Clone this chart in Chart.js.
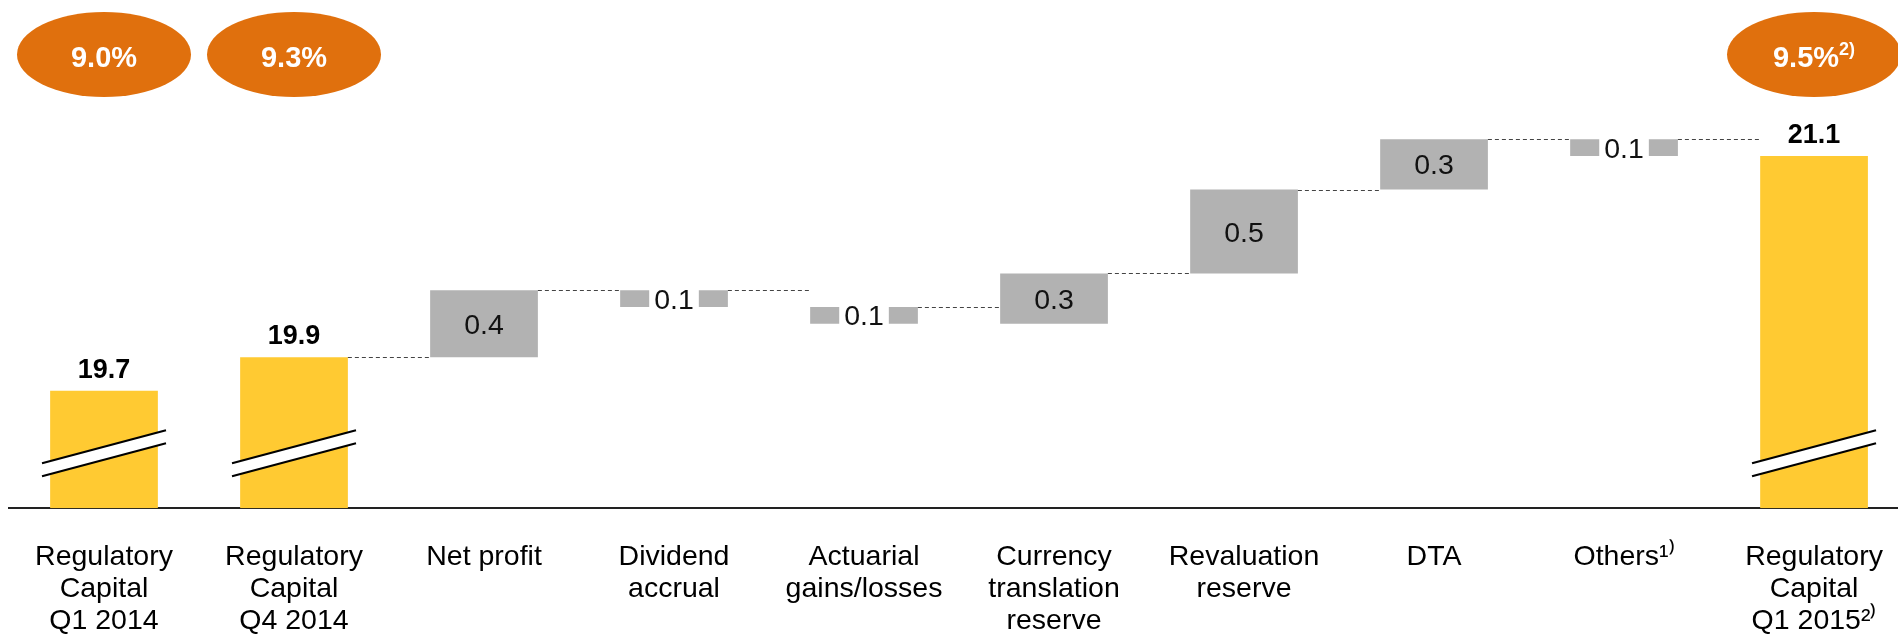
<!DOCTYPE html>
<html><head><meta charset="utf-8">
<script src="https://cdn.jsdelivr.net/npm/chart.js@4/dist/chart.umd.min.js"></script>
<style>
html,body{margin:0;padding:0;background:#fff;overflow:hidden;width:1898px;height:634px}
canvas{display:block}
</style>
</head><body>
<canvas id="c" width="1916" height="695"></canvas>
<script>
// ---- data ----
const categories = [
  ['Regulatory', 'Capital', 'Q1 2014'],
  ['Regulatory', 'Capital', 'Q4 2014'],
  ['Net profit'],
  ['Dividend', 'accrual'],
  ['Actuarial', 'gains/losses'],
  ['Currency', 'translation', 'reserve'],
  ['Revaluation', 'reserve'],
  ['DTA'],
  ['Others\u00B9\u207E'],
  ['Regulatory', 'Capital', 'Q1 2015\u00B2\u207E']
];
const totals  = [19.7, 19.9, null, null, null, null, null, null, null, 21.1];
const changes = [null, null, 0.4, -0.1, -0.1, 0.3, 0.5, 0.3, -0.1, null];
const ratios     = ['9.0%', '9.3%', null, null, null, null, null, null, null, '9.5%'];
const ratioNotes = ['', '', '', '', '', '', '', '', '', '2)'];
const axisFloor = 19.0;
const axisCeil = 21.5;

// ---- build floating bar data ----
const totalBars = totals.map(v => v == null ? null : [axisFloor, v]);
const changeBars = [];
let running = null;
for (let i = 0; i < categories.length; i++) {
  if (totals[i] != null) { running = totals[i]; changeBars.push(null); }
  else if (changes[i] != null) {
    const s = running, e = running + changes[i];
    changeBars.push([s, e]);
    running = e;
  } else changeBars.push(null);
}

const FONT = "'Liberation Sans', Arial, Helvetica, sans-serif";
const YELLOW = '#FFCA32', GREY = '#B2B2B2', ORANGE = '#E0700D';

function barEl(chart, i) {
  if (totals[i] != null) return chart.getDatasetMeta(0).data[i];
  if (changes[i] != null) return chart.getDatasetMeta(1).data[i];
  return null;
}

const waterfallPlugin = {
  id: 'waterfall',
  afterDatasetsDraw(chart) {
    const ctx = chart.ctx;
    const bottom = chart.chartArea.bottom;
    ctx.save();
    // connectors
    ctx.strokeStyle = '#444';
    ctx.lineWidth = 1;
    ctx.setLineDash([4, 3]);
    for (let i = 0; i < categories.length - 1; i++) {
      if (changes[i] == null && changes[i + 1] == null) continue;
      const a = barEl(chart, i), b = barEl(chart, i + 1);
      if (!a || !b) continue;
      const y = Math.round(a.y) + 0.5;
      ctx.beginPath();
      ctx.moveTo(a.x + a.width / 2, y);
      ctx.lineTo(b.x - b.width / 2, y);
      ctx.stroke();
    }
    ctx.setLineDash([]);

    // axis break marks on total bars
    totals.forEach((v, i) => {
      if (v == null) return;
      const el = chart.getDatasetMeta(0).data[i];
      const L = el.x - 62, R = el.x + 62;
      ctx.fillStyle = '#fff';
      ctx.beginPath();
      ctx.moveTo(L, bottom - 45); ctx.lineTo(R, bottom - 78);
      ctx.lineTo(R, bottom - 65); ctx.lineTo(L, bottom - 32);
      ctx.closePath(); ctx.fill();
      ctx.strokeStyle = '#000'; ctx.lineWidth = 2.2;
      ctx.beginPath(); ctx.moveTo(L, bottom - 45); ctx.lineTo(R, bottom - 78); ctx.stroke();
      ctx.beginPath(); ctx.moveTo(L, bottom - 32); ctx.lineTo(R, bottom - 65); ctx.stroke();
    });

    // total labels
    ctx.fillStyle = '#000';
    ctx.font = 'bold 27px ' + FONT;
    ctx.textAlign = 'center';
    ctx.textBaseline = 'alphabetic';
    totals.forEach((v, i) => {
      if (v == null) return;
      const el = chart.getDatasetMeta(0).data[i];
      ctx.fillText(v.toFixed(1), el.x, el.y - 13);
    });

    // change labels
    ctx.font = '28.5px ' + FONT;
    changes.forEach((v, i) => {
      if (v == null) return;
      const el = chart.getDatasetMeta(1).data[i];
      const txt = Math.abs(v).toFixed(1);
      const top = Math.min(el.y, el.base), bot = Math.max(el.y, el.base);
      const cy = (top + bot) / 2;
      const h = bot - top;
      if (h < 26) {
        const w = ctx.measureText(txt).width + 10;
        ctx.fillStyle = '#fff';
        ctx.fillRect(el.x - w / 2, top - 2, w, h + 4);
      }
      ctx.fillStyle = '#111';
      ctx.fillText(txt, el.x, cy + 10);
    });

    // ratio ellipses
    ratios.forEach((r, i) => {
      if (r == null) return;
      const cx = chart.scales.x.getPixelForValue(i);
      ctx.fillStyle = ORANGE;
      ctx.beginPath();
      ctx.ellipse(cx, 54.5, 87, 42.5, 0, 0, Math.PI * 2);
      ctx.fill();
      ctx.fillStyle = '#fff';
      ctx.font = 'bold 29px ' + FONT;
      const mainW = ctx.measureText(r).width;
      ctx.font = 'bold 18px ' + FONT;
      const noteW = ratioNotes[i] ? ctx.measureText(ratioNotes[i]).width : 0;
      const start = cx - (mainW + noteW) / 2;
      ctx.textAlign = 'left';
      ctx.font = 'bold 29px ' + FONT;
      ctx.fillText(r, start, 67);
      if (ratioNotes[i]) {
        ctx.font = 'bold 18px ' + FONT;
        ctx.fillText(ratioNotes[i], start + mainW, 55);
      }
      ctx.textAlign = 'center';
    });
    ctx.restore();
  }
};

new Chart(document.getElementById('c'), {
  type: 'bar',
  data: {
    labels: categories,
    datasets: [
      { data: totalBars, backgroundColor: YELLOW, grouped: false,
        barPercentage: 0.567, categoryPercentage: 1, borderWidth: 0 },
      { data: changeBars, backgroundColor: GREY, grouped: false,
        barPercentage: 0.567, categoryPercentage: 1, borderWidth: 0 }
    ]
  },
  options: {
    responsive: false,
    animation: false,
    devicePixelRatio: 1,
    layout: { padding: { left: 9, right: 1, top: 89, bottom: 25 } },
    plugins: { legend: { display: false }, tooltip: { enabled: false } },
    scales: {
      x: {
        z: 1,
        grid: { display: false, drawTicks: false },
        border: { display: true, color: '#222', width: 2 },
        ticks: {
          color: '#000', autoSkip: false, maxRotation: 0, padding: 33,
          font: { family: FONT, size: 28.5, lineHeight: 1.12 }
        }
      },
      y: { display: false, min: axisFloor, max: axisCeil }
    }
  },
  plugins: [waterfallPlugin]
});
</script>
</body></html>
